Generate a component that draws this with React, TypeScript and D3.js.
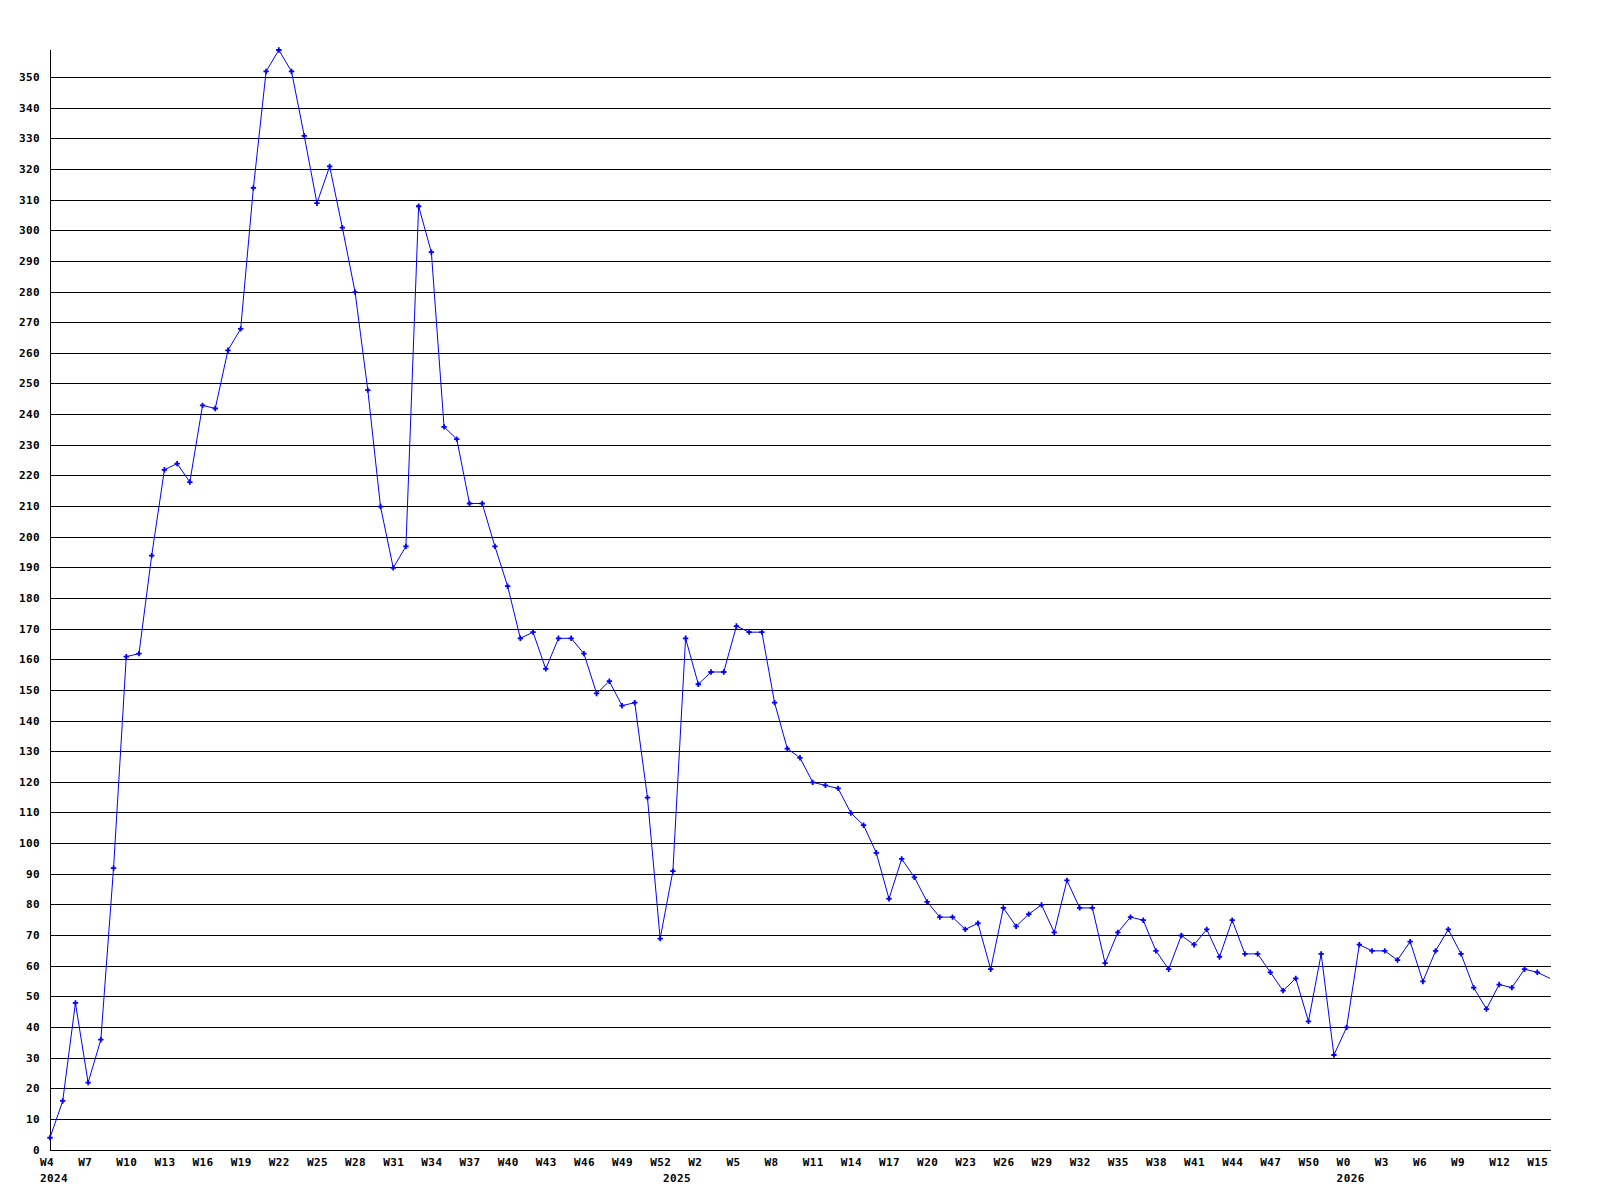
import React from "react";
import * as d3 from "d3";

// ---- data (weekly counts) ----
const years = [2024, 2025, 2026];
const firstWeeks = [4, 0, 0];

const values2024 = [
  4, 16, 48, 22, 36, 92, 161, 162, 194, 222,
  224, 218, 243, 242, 261, 268, 314, 352, 359, 352,
  331, 309, 321, 301, 280, 248, 210, 190, 197, 308,
  293, 236, 232, 211, 211, 197, 184, 167, 169, 157,
  167, 167, 162, 149, 153, 145, 146, 115, 69,
];
const values2025 = [
  91, 167, 152, 156, 156, 171, 169, 169, 146, 131,
  128, 120, 119, 118, 110, 106, 97, 82, 95, 89,
  81, 76, 76, 72, 74, 59, 79, 73, 77, 80,
  71, 88, 79, 79, 61, 71, 76, 75, 65, 59,
  70, 67, 72, 63, 75, 64, 64, 58, 52, 56,
  42, 64, 31,
];
const values2026 = [
  40, 67, 65, 65, 62, 68, 55, 65, 72, 64, 53, 46, 54, 53, 59, 58, 56,
];

const xTickLabels = [
  "W4", "W7", "W10", "W13", "W16", "W19", "W22", "W25", "W28", "W31",
  "W34", "W37", "W40", "W43", "W46", "W49", "W52", "W2", "W5", "W8",
  "W11", "W14", "W17", "W20", "W23", "W26", "W29", "W32", "W35", "W38",
  "W41", "W44", "W47", "W50", "W0", "W3", "W6", "W9", "W12", "W15",
];
const yTickValues = d3.range(0, 351, 10);

const seriesByYear = [values2024, values2025, values2026];

type Pt = { key: string; year: number; week: number; value: number; firstOfYear: boolean };

const points: Pt[] = [];
seriesByYear.forEach((vals, yi) => {
  vals.forEach((v, i) => {
    const week = firstWeeks[yi] + i;
    points.push({
      key: `${years[yi]}-W${week}`,
      year: years[yi],
      week,
      value: v,
      firstOfYear: i === 0,
    });
  });
});

const W = 1600;
const H = 1200;
const left = 50;
const right = 1550;
const top = 50;
const bottom = 1150;

const FONT = "'DejaVu Sans Mono', monospace";

export default function App() {
  const x = d3
    .scalePoint<string>()
    .domain(points.map((p) => p.key))
    .range([left, right])
    .padding(0);
  const y = d3
    .scaleLinear()
    .domain([0, d3.max(points, (p) => p.value) as number])
    .range([bottom, top]);

  const line = d3
    .line<Pt>()
    .x((p) => x(p.key) as number)
    .y((p) => y(p.value));

  const marker = d3.symbol().type(d3.symbolCross).size(16)() as string;

  const tickPoints = points.filter((_, i) => i % 3 === 0);

  return (
    <svg
      width={W}
      height={H}
      style={{ position: "absolute", left: 0, top: 0, background: "#fff" }}
    >
      <rect x={0} y={0} width={W} height={H} fill="#fff" />
      {/* horizontal grid lines */}
      <g shapeRendering="crispEdges">
        {yTickValues.map((v) => (
          <line
            key={v}
            x1={left}
            x2={right + 1}
            y1={Math.floor(y(v)) + 0.5}
            y2={Math.floor(y(v)) + 0.5}
            stroke="#000"
            strokeWidth={1}
          />
        ))}
        <line x1={left + 0.5} x2={left + 0.5} y1={top} y2={bottom + 1} stroke="#000" strokeWidth={1} />
      </g>
      {/* y tick labels */}
      <g fontFamily={FONT} fontWeight="bold" fontSize={11} letterSpacing={0.4} fill="#000">
        {yTickValues.map((v) => (
          <text key={v} x={40} y={Math.floor(y(v)) + 4} textAnchor="end">
            {v}
          </text>
        ))}
      </g>
      {/* x tick labels */}
      <g fontFamily={FONT} fontWeight="bold" fontSize={11} letterSpacing={0.4} fill="#000">
        {tickPoints.map((p, i) => (
          <text key={p.key} x={(x(p.key) as number) - 10} y={1166}>
            {xTickLabels[i]}
          </text>
        ))}
        {points
          .filter((p) => p.firstOfYear)
          .map((p) => (
            <text key={"y" + p.year} x={(x(p.key) as number) - 10} y={1182}>
              {p.year}
            </text>
          ))}
      </g>
      {/* series */}
      <path d={line(points) as string} fill="none" stroke="#0000ff" strokeWidth={1} />
      <g fill="#0000ff">
        {points.slice(0, points.length - 1).map((p) => (
          <path
            key={p.key}
            d={marker}
            transform={`translate(${x(p.key)},${y(p.value)})`}
          />
        ))}
      </g>
    </svg>
  );
}
